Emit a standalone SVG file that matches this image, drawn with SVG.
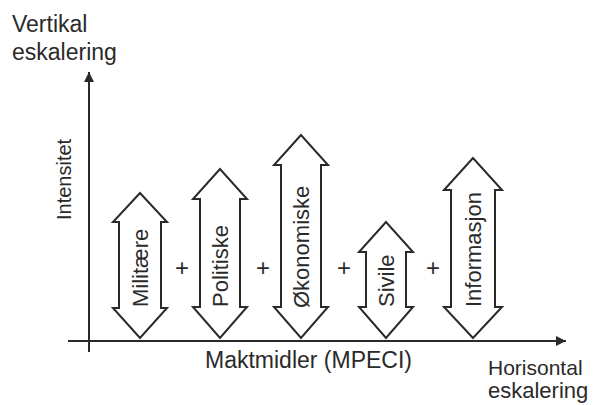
<svg xmlns="http://www.w3.org/2000/svg" width="594" height="405" viewBox="0 0 594 405">
<style>
  .t { font-family: "Liberation Sans", Arial, sans-serif; font-size: 22px; fill: #2a2a2a; }
  .big { font-size: 23px; }
  .ax { stroke: #2a2a2a; stroke-width: 2; fill: none; }
  .arr { fill: #fff; stroke: #2a2a2a; stroke-width: 2; stroke-linejoin: miter; }
  .plus { font-family: "Liberation Sans", Arial, sans-serif; font-size: 24px; fill: #2a2a2a; text-anchor: middle; }
</style>
<defs>
  <marker id="ah" markerWidth="10" markerHeight="10" refX="10" refY="5" orient="auto" markerUnits="userSpaceOnUse">
    <path d="M0,0 L10,5 L0,10 Z" fill="#2a2a2a"/>
  </marker>
</defs>
<rect width="594" height="405" fill="#fff"/>
<g id="connectors">
  <line class="ax" x1="89" y1="352" x2="89" y2="72" marker-end="url(#ah)"/>
  <line class="ax" x1="68" y1="341" x2="566" y2="341" marker-end="url(#ah)"/>
</g>
<g id="labels">
  <text class="t big" x="12" y="32">Vertikal</text>
  <text class="t big" x="12" y="60">eskalering</text>
  <text class="t" transform="translate(71,220) rotate(-90)" style="font-size:20px">Intensitet</text>
  <text class="t big" x="205" y="368">Maktmidler (MPECI)</text>
  <text class="t" x="488" y="375" style="font-size:21px">Horisontal</text>
  <text class="t" x="488" y="398">eskalering</text>
</g>
<g id="militaere">
  <path class="arr" d="M140,193 L113,222 L119,222 L119,308 L113,308 L140,338 L167,308 L161,308 L161,222 L167,222 Z"/>
  <text class="t" transform="translate(148,307) rotate(-90)">Militære</text>
</g>
<g id="plus1"><text class="plus" x="182" y="276">+</text></g>
<g id="politiske">
  <path class="arr" d="M220,169 L193,199 L200,199 L200,307 L193,307 L220,338 L247,307 L240,307 L240,199 L247,199 Z"/>
  <text class="t" transform="translate(228,307) rotate(-90)">Politiske</text>
</g>
<g id="plus2"><text class="plus" x="263" y="276">+</text></g>
<g id="okonomiske">
  <path class="arr" d="M301,135 L274,165 L281,165 L281,307 L274,307 L301,338 L328,307 L321,307 L321,165 L328,165 Z"/>
  <text class="t" transform="translate(309,308) rotate(-90)">Økonomiske</text>
</g>
<g id="plus3"><text class="plus" x="344" y="276">+</text></g>
<g id="sivile">
  <path class="arr" d="M386,222 L359,252 L366,252 L366,307 L359,307 L386,338 L413,307 L406,307 L406,252 L413,252 Z"/>
  <text class="t" transform="translate(394,307) rotate(-90)">Sivile</text>
</g>
<g id="plus4"><text class="plus" x="433" y="276">+</text></g>
<g id="informasjon">
  <path class="arr" d="M473,158 L444,190 L451,190 L451,307 L444,307 L473,338 L502,307 L495,307 L495,190 L502,190 Z"/>
  <text class="t" transform="translate(481,307) rotate(-90)">Informasjon</text>
</g>
</svg>
